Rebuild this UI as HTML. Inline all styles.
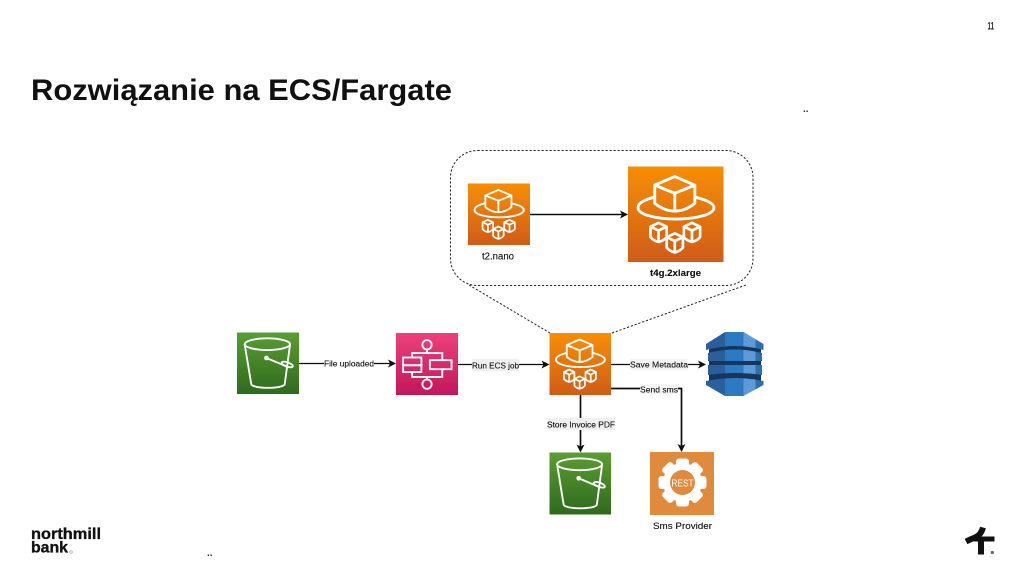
<!DOCTYPE html>
<html lang="pl">
<head>
<meta charset="utf-8">
<title>Rozwiązanie na ECS/Fargate</title>
<style>
html,body{margin:0;padding:0;background:#fff;width:1024px;height:576px;overflow:hidden}
svg{display:block}
text{font-family:"Liberation Sans",sans-serif}
.l{font-size:8.6px;fill:#111;stroke:#111;stroke-width:.12}
</style>
</head>
<body>
<svg width="1024" height="576" viewBox="0 0 1024 576" xmlns="http://www.w3.org/2000/svg">
<defs>
<linearGradient id="o" x1="0" y1="1" x2="0" y2="0"><stop offset="0" stop-color="#cf5c17"/><stop offset="1" stop-color="#f78e04"/></linearGradient>
<linearGradient id="g" x1="0" y1="1" x2="0" y2="0"><stop offset="0" stop-color="#2f6a1e"/><stop offset="1" stop-color="#5a9d33"/></linearGradient>
<linearGradient id="p" x1="0" y1="1" x2="0" y2="0"><stop offset="0" stop-color="#c2185b"/><stop offset="1" stop-color="#ec407a"/></linearGradient>
<filter id="b" x="-2%" y="-2%" width="104%" height="104%"><feGaussianBlur stdDeviation="0.3"/></filter>
<clipPath id="dy">
<path d="M706,344 L725,332 H743.5 L763.5,344 V350 Q735,342 706,350 Z"/>
<path d="M708,353 Q735,346 762,353 V361 H708 Z"/>
<path d="M708,365 H762 V375 Q735,371 708,375 Z"/>
<path d="M706,381 Q735,375 763.5,381 V385 L743.5,396 H725 L706,385 Z"/>
</clipPath>
<g id="cube">
<path d="M0,-10 L8.5,-6 V5 Q5,9 0,10 Q-5,9 -8.5,5 V-6 Z M-8.5,-6 L0,-2 L8.5,-6 M0,-2 V10" fill="none" stroke="#fff" stroke-width="2.8" stroke-linejoin="round"/>
</g>
<g id="far">
<rect width="100" height="100" fill="url(#o)"/>
<g fill="none" stroke="#fff" stroke-width="3" stroke-linejoin="round" stroke-linecap="round">
<path d="M49,10.5 L70,19.5 V38.5 Q60,46.7 49,46.7 Q38,46.7 28,38.5 V19.5 Z M28,19.5 L49,28 L70,19.5 M49,28 V46.7"/>
<path d="M28,32 C16,35 10.5,38.5 10.5,43 C10.5,50 28,55 50,55 C72,55 90,50 90,43 C90,38.5 82,35 70,32"/>
</g>
<use href="#cube" x="32" y="69"/>
<use href="#cube" x="67" y="69"/>
<use href="#cube" x="49" y="80"/>
</g>
<g id="s3">
<rect width="100" height="100" fill="url(#g)"/>
<g fill="none" stroke="#fff" stroke-width="3" stroke-linecap="round" stroke-linejoin="round">
<ellipse cx="49" cy="19" rx="36.5" ry="9.5"/>
<path d="M12.5,20 L23,84 C25,92 75,92 77,84 L85.5,20"/>
<path d="M47.5,41.5 L82,56"/>
<ellipse cx="81" cy="52" rx="9.5" ry="3.5" transform="rotate(20 81 52)"/>
</g>
<circle cx="47.5" cy="41.5" r="3.8" fill="#fff"/>
</g>
</defs>

<!-- Slide chrome -->
<text x="31" y="100" font-size="30" font-weight="700" fill="#111" textLength="421" lengthAdjust="spacingAndGlyphs">Rozwiązanie na ECS/Fargate</text>
<text x="987.5" y="29.5" font-size="11" font-weight="700" fill="#222" textLength="6.5" lengthAdjust="spacingAndGlyphs">11</text>
<text x="803" y="112" font-size="10" font-weight="700" fill="#333">..</text>
<text x="207" y="556" font-size="10" font-weight="700" fill="#333">..</text>

<text x="31" y="539" font-size="16" font-weight="700" fill="#111" stroke="#111" stroke-width=".35" textLength="70" lengthAdjust="spacingAndGlyphs">northmill</text>
<text x="31" y="552.5" font-size="16" font-weight="700" fill="#111" stroke="#111" stroke-width=".35" textLength="37" lengthAdjust="spacingAndGlyphs">bank</text>
<circle cx="71" cy="552" r="1.3" fill="none" stroke="#999" stroke-width=".6"/>

<path d="M983,527.5 Q981,535 975,537.5 Q970,539.5 966,541.5" fill="none" stroke="#111" stroke-width="6"/>
<path d="M974,539 H994.5" fill="none" stroke="#111" stroke-width="5"/>
<path d="M981,537 V554.5" fill="none" stroke="#111" stroke-width="6"/>
<circle cx="992.3" cy="552.5" r="1.6" fill="#666"/>

<!-- Dashed callout -->
<rect x="450.5" y="150.5" width="302.5" height="135" rx="27" fill="none" stroke="#222" stroke-width="1" stroke-dasharray="2.2 1.8"/>
<path d="M469,285 L550,333 M612,333 L746,285" fill="none" stroke="#222" stroke-width="1" stroke-dasharray="2.2 1.8"/>

<!-- Diagram -->
<g filter="url(#b)">
<use href="#far" transform="translate(468,183.5) scale(.62,.615)"/>
<use href="#far" transform="translate(628,166.5) scale(.955,.955)"/>
<use href="#far" transform="translate(549.5,333) scale(.615,.62)"/>
<use href="#s3" transform="translate(237,332.5) scale(.62,.615)"/>
<use href="#s3" transform="translate(549.5,452.5) scale(.615,.62)"/>

<!-- Step Functions -->
<g transform="translate(396,333) scale(.62)">
<rect width="100" height="100" fill="url(#p)"/>
<g fill="none" stroke="#fff" stroke-width="3">
<circle cx="50" cy="19" r="7.5"/>
<circle cx="50" cy="82.5" r="7.5"/>
<rect x="11.5" y="39.5" width="29.5" height="12.5"/>
<rect x="11.5" y="52" width="29.5" height="11"/>
<rect x="54.6" y="43.8" width="35" height="14.6"/>
<path d="M50,26.5 V32.4 M26,39.5 V32.4 H74.6 V43.8 M26,63 V70.8 H74.6 V58.4 M50,70.8 V75"/>
</g>
</g>

<!-- DynamoDB -->
<rect x="709" y="345" width="52" height="40" fill="#17355f"/>
<g clip-path="url(#dy)">
<rect x="706" y="330" width="19" height="68" fill="#2a5f9c"/>
<rect x="725" y="330" width="18.5" height="68" fill="#2f7ac2"/>
<rect x="743.5" y="330" width="12" height="68" fill="#5b9bd8"/>
<rect x="755.5" y="330" width="9" height="68" fill="#2f6dae"/>
</g>

<!-- REST -->
<rect x="650" y="452" width="64" height="63" fill="#e08a3e"/>
<g transform="translate(682.5,482.5)" fill="#fff">
<circle r="19.5"/>
<rect x="-6.5" y="-24" width="13" height="48" rx="3"/>
<rect x="-24" y="-6.5" width="48" height="13" rx="3"/>
<g transform="rotate(45)"><rect x="-6.5" y="-24" width="13" height="48" rx="3"/><rect x="-24" y="-6.5" width="48" height="13" rx="3"/></g>
<circle r="12.5" fill="#e08a3e"/>
</g>
<text x="671.5" y="486.3" font-size="10" fill="#fff" textLength="22" lengthAdjust="spacingAndGlyphs">REST</text>

<!-- Connectors -->
<g fill="none" stroke="#111" stroke-width="1.2">
<path d="M530,214.5 H622" stroke-width="1.4"/>
<path d="M299,363.5 H391"/>
<path d="M458,364.5 H544"/>
<path d="M611,364.5 H700"/>
<path d="M611,388.5 H681.5 V447" stroke-width="1.7"/>
<path d="M580.5,395 V447" stroke-width="1.7"/>
</g>
<g fill="#111">
<path d="M628,214.5 L620,210.5 L622,214.5 L620,218.5 Z"/>
<path d="M396,363.5 L388,359.5 L390,363.5 L388,367.5 Z"/>
<path d="M549.5,364.5 L541.5,360.5 L543.5,364.5 L541.5,368.5 Z"/>
<path d="M706,364.5 L698,360.5 L700,364.5 L698,368.5 Z"/>
<path d="M580.5,452.5 L576.5,444.5 L580.5,446.5 L584.5,444.5 Z"/>
<path d="M681.5,452 L677.5,444 L681.5,446 L685.5,444 Z"/>
</g>

<!-- Edge labels -->
<rect x="324" y="358" width="50" height="11" fill="#fff"/>
<text class="l" x="324" y="366.5" textLength="50" lengthAdjust="spacingAndGlyphs">File uploaded</text>
<rect x="472" y="359" width="47" height="12" fill="#eee"/>
<text class="l" x="472" y="368.5" textLength="47" lengthAdjust="spacingAndGlyphs">Run ECS job</text>
<rect x="630" y="359" width="58" height="11" fill="#f4f4f4"/>
<text class="l" x="630" y="367.5" textLength="58" lengthAdjust="spacingAndGlyphs">Save Metadata</text>
<rect x="640" y="384" width="38" height="10" fill="#f4f4f4"/>
<text class="l" x="640" y="392.5" textLength="38" lengthAdjust="spacingAndGlyphs">Send sms</text>
<rect x="547" y="418" width="68" height="12" fill="#f0f0f0"/>
<text class="l" x="547" y="427.5" textLength="68" lengthAdjust="spacingAndGlyphs">Store Invoice PDF</text>

<text class="l" x="482" y="259.5" style="font-size:10px" textLength="32" lengthAdjust="spacingAndGlyphs">t2.nano</text>
<text class="l" x="650" y="276" style="font-size:9.5px;font-weight:700" textLength="51" lengthAdjust="spacingAndGlyphs">t4g.2xlarge</text>
<text class="l" x="653" y="529" style="font-size:9.5px" textLength="59" lengthAdjust="spacingAndGlyphs">Sms Provider</text>
</g>
</svg>
</body>
</html>
